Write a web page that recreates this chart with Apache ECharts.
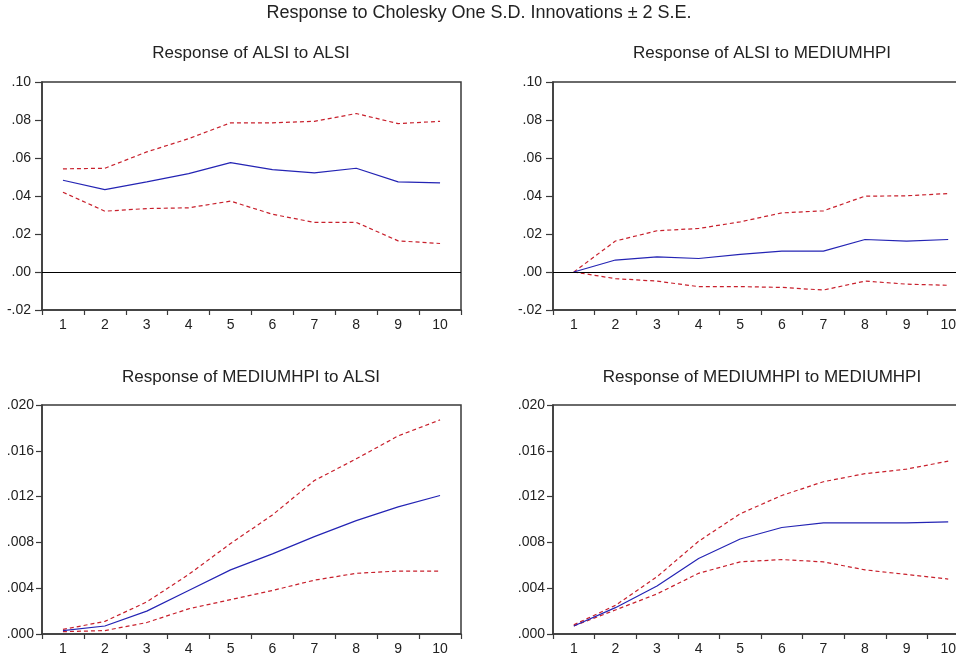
<!DOCTYPE html>
<html>
<head>
<meta charset="utf-8">
<script src="https://cdn.jsdelivr.net/npm/echarts@6/dist/echarts.min.js"></script>
<style>
html,body{margin:0;padding:0;background:#fff;overflow:hidden;width:956px;height:657px;}
#chart{width:972px;height:657px;}
</style>
</head>
<body>
<div id="chart"></div>
<script>
const periods = ['1','2','3','4','5','6','7','8','9','10'];

const alsiAlsi   = [0.0483, 0.0434, 0.0474, 0.0518, 0.0576, 0.0539, 0.0522, 0.0546, 0.0474, 0.0469];
const alsiAlsiUp = [0.0543, 0.0546, 0.0632, 0.0702, 0.0785, 0.0785, 0.0793, 0.0834, 0.0781, 0.0793];
const alsiAlsiLo = [0.0420, 0.0320, 0.0334, 0.0338, 0.0373, 0.0304, 0.0261, 0.0261, 0.0164, 0.0150];

const alsiHpi   = [0.0000, 0.0063, 0.0080, 0.0071, 0.0093, 0.0110, 0.0110, 0.0171, 0.0163, 0.0171];
const alsiHpiUp = [0.0000, 0.0163, 0.0217, 0.0229, 0.0264, 0.0311, 0.0322, 0.0399, 0.0401, 0.0413];
const alsiHpiLo = [0.0000, -0.0035, -0.0048, -0.0077, -0.0077, -0.0081, -0.0095, -0.0048, -0.0064, -0.0070];

const hpiAlsi   = [0.0003, 0.0007, 0.0020, 0.0038, 0.0056, 0.0070, 0.0085, 0.0099, 0.0111, 0.0121];
const hpiAlsiUp = [0.0004, 0.0011, 0.0028, 0.0052, 0.0079, 0.0104, 0.0134, 0.0153, 0.0173, 0.0187];
const hpiAlsiLo = [0.0002, 0.0003, 0.0010, 0.0022, 0.0030, 0.0038, 0.0047, 0.0053, 0.0055, 0.0055];

const hpiHpi   = [0.0007, 0.0023, 0.0042, 0.0066, 0.0083, 0.0093, 0.0097, 0.0097, 0.0097, 0.0098];
const hpiHpiUp = [0.0008, 0.0025, 0.0050, 0.0081, 0.0105, 0.0121, 0.0133, 0.0140, 0.0144, 0.0151];
const hpiHpiLo = [0.0007, 0.0021, 0.0035, 0.0053, 0.0063, 0.0065, 0.0063, 0.0056, 0.0052, 0.0048];

const mainTitle = 'Response to Cholesky One S.D. Innovations \u00b1 2 S.E.';
const panelTitles = ['Response of ALSI to ALSI', 'Response of ALSI to MEDIUMHPI',
                     'Response of MEDIUMHPI to ALSI', 'Response of MEDIUMHPI to MEDIUMHPI'];

const FONT = '"Liberation Sans", Arial, sans-serif';
const BLUE = '#2424b4';
const RED = '#c8202c';

const grids = [
  {left: 42,  top: 82,  width: 419, height: 228},
  {left: 553, top: 82,  width: 416, height: 228},
  {left: 42,  top: 405, width: 419, height: 229},
  {left: 553, top: 405, width: 416, height: 229}
].map(g => Object.assign(g, {show: true, borderColor: '#3a3a3a', borderWidth: 1.5, backgroundColor: '#fff'}));

function fmt(dec) {
  return v => Number(v).toFixed(dec).replace(/^(-?)0\./, '$1.');
}

const xAxes = grids.map((g, i) => ({
  type: 'category', gridIndex: i, data: periods, boundaryGap: true,
  axisLine: {show: true, onZero: false, lineStyle: {color: '#3a3a3a', width: 1.5}},
  axisTick: {show: true, inside: false, length: 5, alignWithLabel: false, lineStyle: {color: '#3a3a3a', width: 1.2}},
  axisLabel: {color: '#222', fontFamily: FONT, fontSize: 14, margin: 8},
  splitLine: {show: false}
}));

const yAxes = grids.map((g, i) => {
  const top = i < 2;
  return {
    type: 'value', gridIndex: i,
    min: top ? -0.02 : 0, max: top ? 0.10 : 0.020, interval: top ? 0.02 : 0.004,
    axisLine: {show: true, onZero: false, lineStyle: {color: '#3a3a3a', width: 1.5}},
    axisTick: {show: true, inside: false, length: top ? 7 : 6, lineStyle: {color: '#3a3a3a', width: 1.2}},
    axisLabel: {color: '#222', fontFamily: FONT, fontSize: 14, margin: top ? 11 : 8, formatter: fmt(top ? 2 : 3)},
    splitLine: {show: false}
  };
});

function line(idx, data, dashed, zero) {
  const s = {
    type: 'line', xAxisIndex: idx, yAxisIndex: idx, data: data,
    symbol: 'none', silent: true, z: dashed ? 3 : 4,
    lineStyle: {color: dashed ? RED : BLUE, width: 1.2, type: dashed ? [4, 3] : 'solid'}
  };
  if (zero) {
    s.markLine = {
      silent: true, symbol: ['none', 'none'], label: {show: false},
      lineStyle: {color: '#000', width: 1.2, type: 'solid'},
      data: [{yAxis: 0}], animation: false
    };
  }
  return s;
}

const series = [
  line(0, alsiAlsi, false, true), line(0, alsiAlsiUp, true), line(0, alsiAlsiLo, true),
  line(1, alsiHpi, false, true), line(1, alsiHpiUp, true), line(1, alsiHpiLo, true),
  line(2, hpiAlsi, false), line(2, hpiAlsiUp, true), line(2, hpiAlsiLo, true),
  line(3, hpiHpi, false), line(3, hpiHpiUp, true), line(3, hpiHpiLo, true)
];

const titleStyle = {color: '#222', fontFamily: FONT, fontWeight: 'normal'};
const titles = [
  {text: mainTitle, left: 479, top: 4, textAlign: 'center', textStyle: Object.assign({fontSize: 18}, titleStyle)},
  {text: panelTitles[0], left: 251, top: 45, textAlign: 'center', textStyle: Object.assign({fontSize: 17}, titleStyle)},
  {text: panelTitles[1], left: 762, top: 45, textAlign: 'center', textStyle: Object.assign({fontSize: 17}, titleStyle)},
  {text: panelTitles[2], left: 251, top: 369, textAlign: 'center', textStyle: Object.assign({fontSize: 17}, titleStyle)},
  {text: panelTitles[3], left: 762, top: 369, textAlign: 'center', textStyle: Object.assign({fontSize: 17}, titleStyle)}
];
titles.forEach(t => { t.padding = 0; });

const chart = echarts.init(document.getElementById('chart'), null, {renderer: 'canvas'});
chart.setOption({
  animation: false,
  backgroundColor: '#fff',
  title: titles,
  grid: grids,
  xAxis: xAxes,
  yAxis: yAxes,
  series: series
});
</script>
</body>
</html>
